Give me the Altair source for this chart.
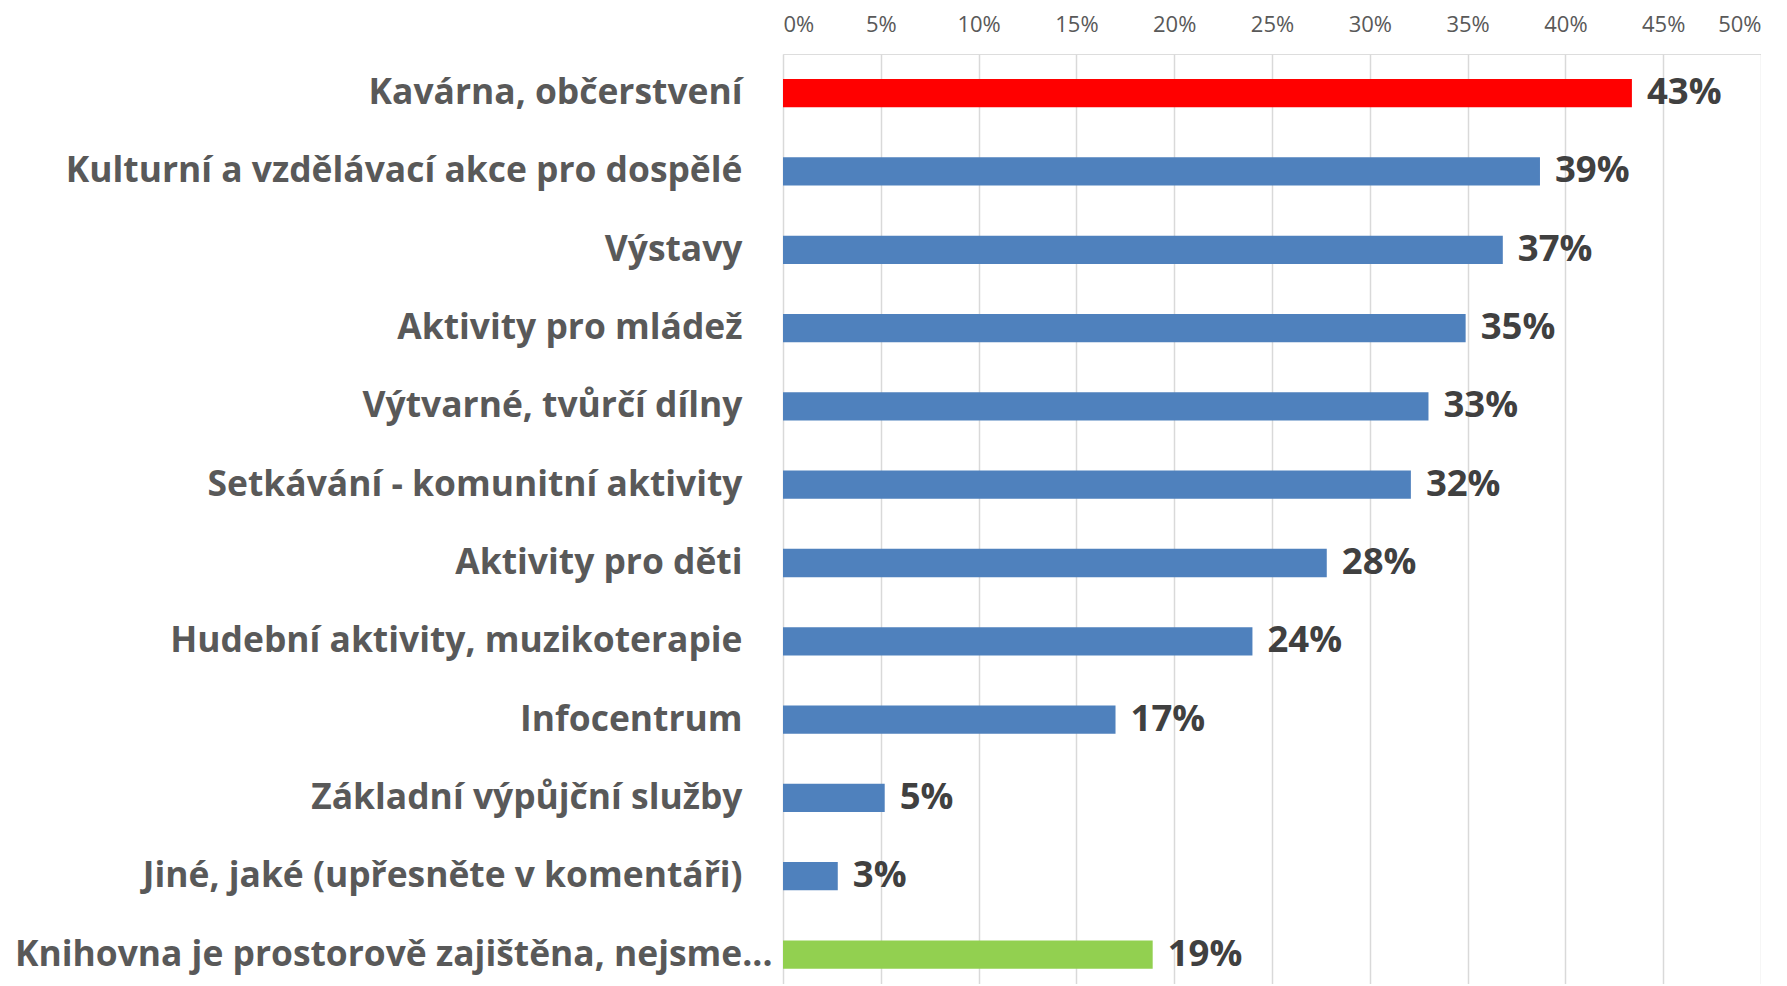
import altair as alt
import pandas as pd

categories = [
    "Kavárna, občerstvení",
    "Kulturní a vzdělávací akce pro dospělé",
    "Výstavy",
    "Aktivity pro mládež",
    "Výtvarné, tvůrčí dílny",
    "Setkávání - komunitní aktivity",
    "Aktivity pro děti",
    "Hudební aktivity, muzikoterapie",
    "Infocentrum",
    "Základní výpůjční služby",
    "Jiné, jaké (upřesněte v komentáři)",
    "Knihovna je prostorově zajištěna, nejsme...",
]
values = [0.434, 0.387, 0.368, 0.349, 0.330, 0.321, 0.278, 0.240, 0.170, 0.052, 0.028, 0.189]
colors = ["#FF0000"] + ["#4F81BD"] * 10 + ["#92D050"]
x_ticks = [0, 0.05, 0.10, 0.15, 0.20, 0.25, 0.30, 0.35, 0.40, 0.45, 0.50]

df = pd.DataFrame({"cat": categories, "val": values, "color": colors})

FONT = "Open Sans"
last = categories[-1]

y_enc = alt.Y(
    "cat:N",
    sort=categories,
    title=None,
    scale=alt.Scale(paddingInner=0.639, paddingOuter=0.258, align=0.62),
    axis=alt.Axis(
        domain=False,
        ticks=False,
        grid=False,
        labelFont=FONT,
        labelFontSize=35.4,
        labelFontWeight="bold",
        labelColor="#595959",
        labelLimit=1200,
        labelPadding=alt.ConditionalAxisNumber(
            condition={"test": f"datum.value === '{last}'", "value": 11},
            value=41,
        ),
    ),
)

x_enc = alt.X(
    "val:Q",
    title=None,
    scale=alt.Scale(domain=[0, 0.5], nice=False),
    axis=alt.Axis(
        orient="top",
        values=x_ticks,
        format=".0%",
        domain=False,
        ticks=False,
        grid=True,
        gridColor="#D9D9D9",
        gridWidth=1.5,
        labelFont=FONT,
        labelFontSize=22,
        labelColor="#595959",
        labelPadding=18,
    ),
)

bars = alt.Chart(df).mark_bar().encode(
    y=y_enc,
    x=x_enc,
    color=alt.Color("color:N", scale=None),
)

text = alt.Chart(df).mark_text(
    align="left",
    baseline="middle",
    dx=15,
    font=FONT,
    fontSize=36.5,
    fontWeight="bold",
    color="#404040",
).encode(
    y=alt.Y("cat:N", sort=categories),
    x=alt.X("val:Q"),
    text=alt.Text("val:Q", format=".0%"),
)

chart = (
    alt.layer(bars, text)
    .properties(width=978, height=930, padding={"left": 6, "top": 5, "right": 0, "bottom": 0})
    .configure_view(stroke=None)
    .configure(background="white")
)

chart.save("out.html", embed_options={"renderer": "svg", "actions": False})
